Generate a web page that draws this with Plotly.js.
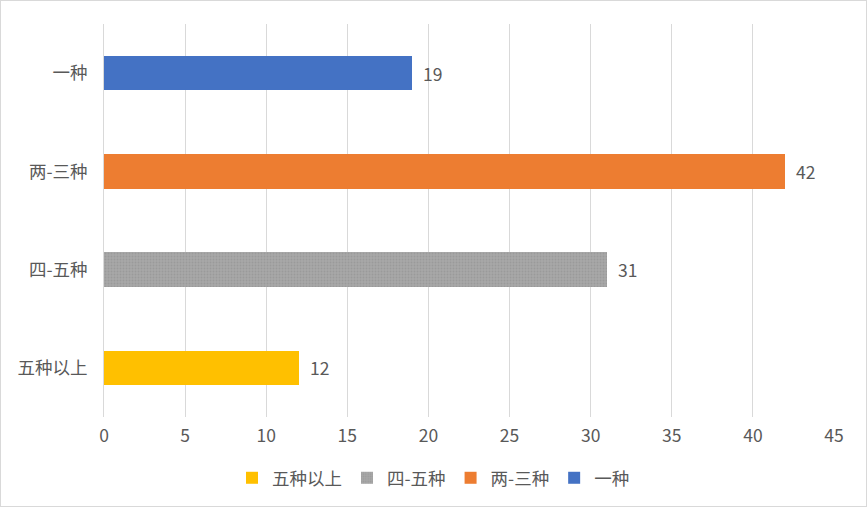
<!DOCTYPE html>
<html>
<head>
<meta charset="utf-8">
<script src="https://cdn.plot.ly/plotly-3.0.1.min.js"></script>
<style>
  html, body { margin: 0; padding: 0; background: #fff; }
  #frame { width: 867px; height: 507px; box-sizing: border-box; border: 1px solid #d9d9d9; }
  #chart { width: 865px; height: 505px; }
</style>
</head>
<body>
<div id="frame"><div id="chart"></div></div>
<script>
    // bottom-to-top order, as Excel draws a reversed bar chart
    var CATEGORIES = ['五种以上', '四-五种', '两-三种', '一种'];
    var VALUES = [12, 31, 42, 19];
    var COLORS = ['#FFC000', '#A5A5A5', '#ED7D31', '#4472C4'];
    var X_TICKS = [0, 5, 10, 15, 20, 25, 30, 35, 40, 45];

    var INK = '#595959';
    var FONT = { family: '"Noto Sans CJK SC", "Noto Sans", sans-serif', size: 17.5, color: INK };

    var traces = CATEGORIES.map(function (cat, i) {
        var t = {
            type: 'bar', orientation: 'h',
            name: cat, x: [VALUES[i]], y: [cat],
            marker: { color: COLORS[i], line: { width: 0 } },
            hoverinfo: 'skip',
        };
        if (cat === '四-五种') {
            t.marker.pattern = { shape: '.', size: 3, solidity: 0.3, fgcolor: '#9a9a9a', bgcolor: '#A8A8A8', fillmode: 'replace' };
        }
        return t;
    });

    // value labels sit a little right of each bar end
    var labels = CATEGORIES.map(function (cat, i) {
        return {
            x: VALUES[i], y: cat, xref: 'x', yref: 'y',
            text: String(VALUES[i]), showarrow: false,
            xanchor: 'left', xshift: 9, font: FONT,
        };
    });

    var layout = {
        width: 865, height: 505,
        margin: { l: 103, r: 32, t: 23, b: 89 },
        paper_bgcolor: '#fff', plot_bgcolor: '#fff',
        font: FONT,
        barmode: 'stack', bargap: 0.65,
        showlegend: true,
        legend: {
            orientation: 'h', xref: 'container', x: 0.5, xanchor: 'center',
            yref: 'container', y: 0.02, yanchor: 'bottom',
            font: FONT, traceorder: 'normal', itemwidth: 30,
        },
        annotations: labels,
        xaxis: {
            range: [0, 45], tickvals: X_TICKS, ticktext: X_TICKS.map(String),
            showgrid: true, gridcolor: '#d9d9d9', gridwidth: 1,
            zeroline: false, showline: false, ticks: '', tickfont: FONT,
            ticklabelstandoff: 6, fixedrange: true, automargin: false,
        },
        yaxis: {
            type: 'category', categoryorder: 'array', categoryarray: CATEGORIES,
            showline: true, linecolor: '#d9d9d9', linewidth: 1,
            showgrid: false, zeroline: false, ticks: '', tickfont: FONT,
            ticklabelstandoff: 12, fixedrange: true, automargin: false,
        },
    };

    Plotly.newPlot('chart', traces, layout, { displayModeBar: false, staticPlot: true });
</script>
</body>
</html>
